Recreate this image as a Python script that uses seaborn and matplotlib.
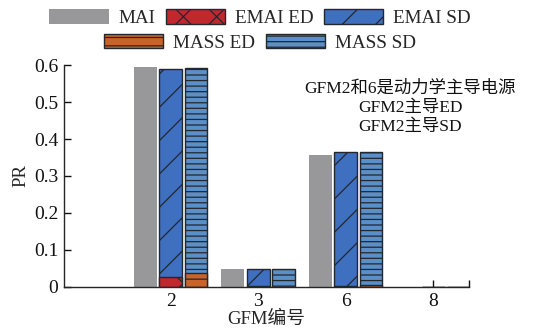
import numpy as np
import pandas as pd
import matplotlib
matplotlib.use("Agg")
import matplotlib.pyplot as plt
from matplotlib.patches import Patch
from matplotlib.ticker import FuncFormatter
import seaborn as sns

# GFM index and participation ratios
gfm = ["2", "3", "6", "8"]
mai = [0.595, 0.048, 0.357, 0.0]
emai_ed = [0.026, 0.002, 0.002, 0.0]
emai_sd = [0.562, 0.047, 0.362, 0.0]
mass_ed = [0.039, 0.001, 0.005, 0.0]
mass_sd = [0.552, 0.048, 0.359, 0.0]
yticks = [0, 0.1, 0.2, 0.3, 0.4, 0.5, 0.6]
note_lines = ["GFM2和6是动力学主导电源", "GFM2主导ED", "GFM2主导SD"]

sns.set_style("ticks")
plt.rcParams["font.family"] = ["Liberation Serif", "Noto Sans CJK SC"]
plt.rcParams["hatch.linewidth"] = 0.9
plt.rcParams["axes.linewidth"] = 1.0

groups = ["MAI", "EMAI", "MASS"]
total = pd.DataFrame({
    "GFM": gfm * 3,
    "group": sum([[g] * len(gfm) for g in groups], []),
    "PR": mai + list(np.add(emai_ed, emai_sd)) + list(np.add(mass_ed, mass_sd)),
})
ed = pd.DataFrame({
    "GFM": gfm * 3,
    "group": sum([[g] * len(gfm) for g in groups], []),
    "PR": [np.nan] * len(gfm) + emai_ed + mass_ed,
})

fig = plt.figure(figsize=(5.55, 3.29), dpi=100)
ax = fig.add_axes([0.1153, 0.1277, 0.7297, 0.6747])

edge = "#23272e"
c_mai = "#98989b"
c_emai_ed = "#c0282e"
c_emai_sd = "#3f6fbf"
c_mass_ed = "#c9632a"
c_mass_sd = "#5b8fc8"

# total height bars (SD stacked on ED)
sns.barplot(data=total, x="GFM", y="PR", hue="group", hue_order=groups,
            order=gfm, width=0.87, gap=0.1, dodge=True, ax=ax,
            legend=False, errorbar=None)
n0 = len(ax.containers)
styles = [
    dict(facecolor=c_mai, edgecolor="none", hatch=None, lw=0),
    dict(facecolor=c_emai_sd, edgecolor=edge, hatch="/", lw=1.0),
    dict(facecolor=c_mass_sd, edgecolor=edge, hatch="---", lw=1.0),
]
for cont, st in zip(ax.containers[:n0], styles):
    for b in cont:
        b.set_facecolor(st["facecolor"])
        b.set_edgecolor(st["edgecolor"])
        b.set_linewidth(st["lw"])
        if st["hatch"]:
            b.set_hatch(st["hatch"])

# ED part at the bottom of each stack
sns.barplot(data=ed, x="GFM", y="PR", hue="group", hue_order=groups,
            order=gfm, width=0.87, gap=0.1, dodge=True, ax=ax,
            legend=False, errorbar=None)
ed_styles = [
    None,
    dict(facecolor=c_emai_ed, hatch="x"),
    dict(facecolor=c_mass_ed, hatch="--"),
]
for cont, st in zip(ax.containers[n0:], ed_styles):
    for b in cont:
        if st is None:
            b.set_visible(False)
            continue
        b.set_facecolor(st["facecolor"])
        b.set_edgecolor(edge)
        b.set_linewidth(1.0)
        b.set_hatch(st["hatch"])

ax.set_xlim(-1.22, 3.41)
ax.set_ylim(0, 0.6)
ax.set_yticks(yticks)
ax.yaxis.set_major_formatter(FuncFormatter(lambda v, p: "0" if v == 0 else f"{v:.1f}"))
ax.set_xticks(range(len(gfm)))
ax.set_xticklabels(gfm)
ax.set_xticks([3.41], minor=True)
ax.tick_params(axis="both", which="both", direction="in", length=5, width=1,
               labelsize=14, colors="#111111", pad=4)
sns.despine(ax=ax)
ax.set_xlabel("GFM编号", fontsize=13.5, labelpad=1)
ax.set_ylabel("PR", fontsize=13.5, labelpad=3)

fig.text(0.739, 0.672, "\n".join(note_lines), ha="center", va="center",
         multialignment="center", fontsize=12.5, linespacing=1.25,
         color="#111111")

h_mai = Patch(facecolor=c_mai, edgecolor="none", label="MAI")
h_eed = Patch(facecolor=c_emai_ed, edgecolor=edge, hatch="x", label="EMAI ED")
h_esd = Patch(facecolor=c_emai_sd, edgecolor=edge, hatch="/", label="EMAI SD")
h_med = Patch(facecolor=c_mass_ed, edgecolor=edge, hatch="--", label="MASS ED")
h_msd = Patch(facecolor=c_mass_sd, edgecolor=edge, hatch="---", label="MASS SD")

leg_kw = dict(frameon=False, fontsize=13.8, handlelength=3.1, handleheight=0.8,
              handletextpad=0.5, columnspacing=0.55, borderpad=0, borderaxespad=0)
leg1 = fig.legend(handles=[h_mai, h_eed, h_esd], ncol=3, loc="center",
                  bbox_to_anchor=(0.468, 0.944), **leg_kw)
leg2 = fig.legend(handles=[h_med, h_msd], ncol=2, loc="center",
                  bbox_to_anchor=(0.468, 0.870), **leg_kw)

fig.savefig("out.png", dpi=100)
